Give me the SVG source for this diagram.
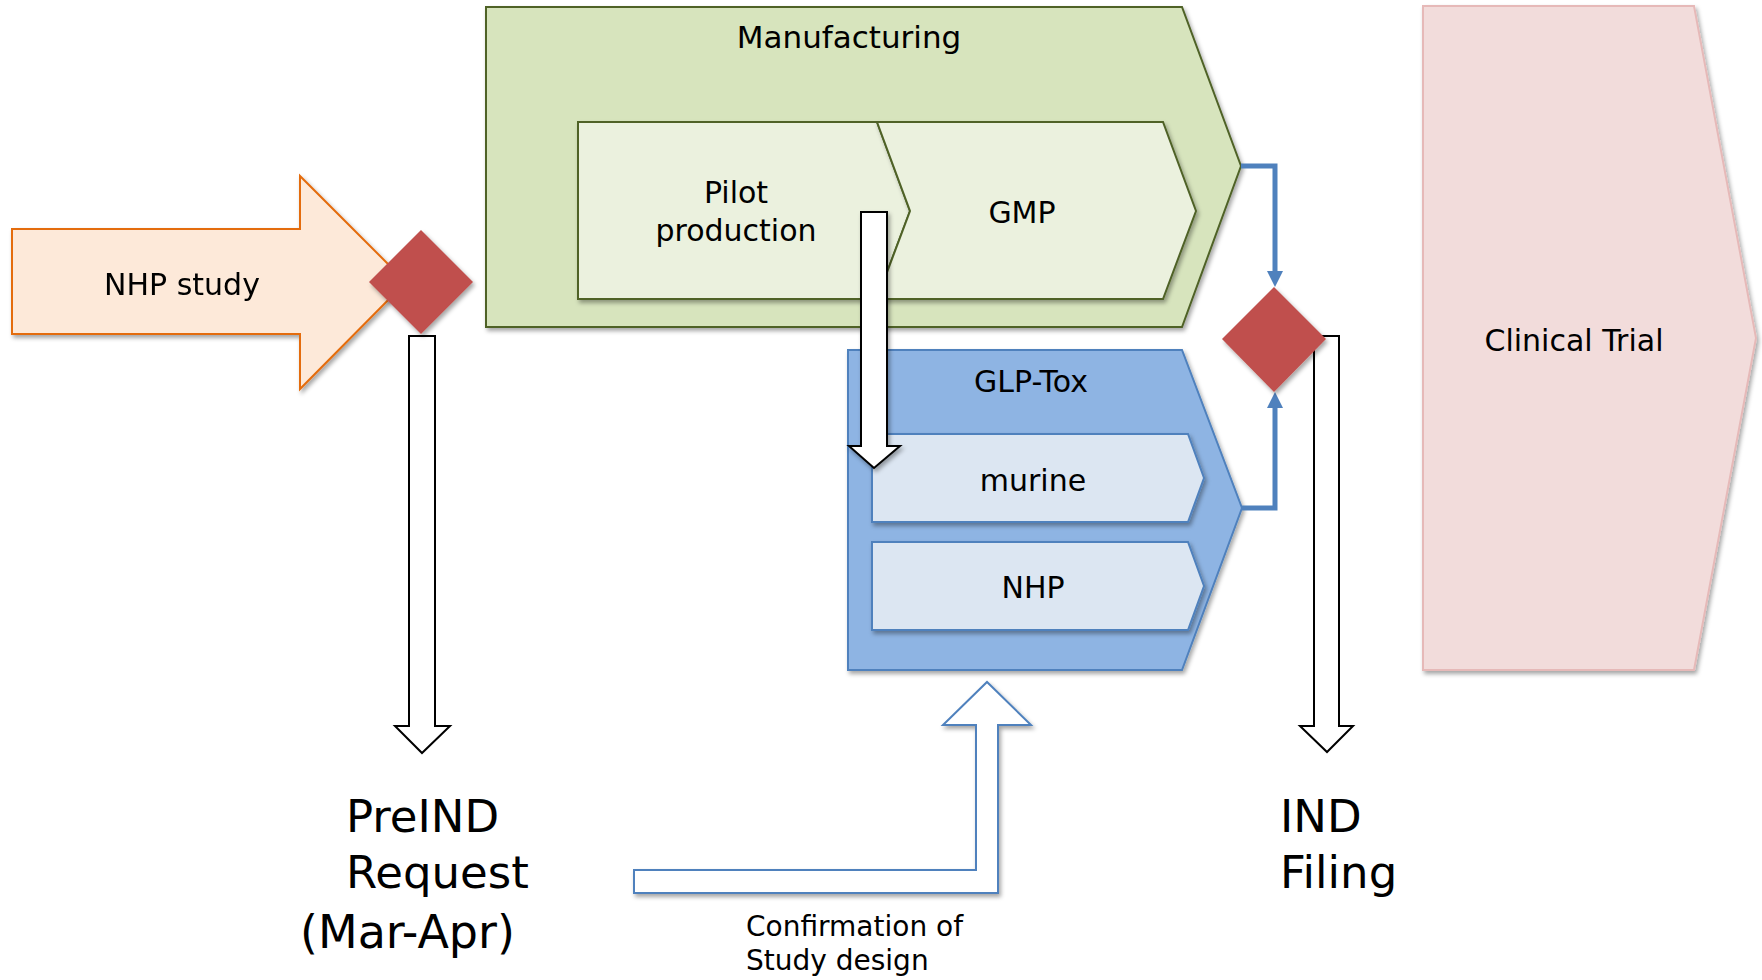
<svg xmlns="http://www.w3.org/2000/svg" width="1762" height="980" viewBox="0 0 1762 980">
<style>
text{font-family:"DejaVu Sans","Liberation Sans",sans-serif;fill:#000}
.lbl{font-size:30px;text-anchor:middle}
.big{font-size:45px}
.small{font-size:28px}
.green{fill:#D7E4BD;stroke:#4F6228;stroke-width:2}
.lgreen{fill:#EBF1DE;stroke:#4F6228;stroke-width:2}
.blue{fill:#8EB4E3;stroke:#4F81BD;stroke-width:2}
.lblue{fill:#DCE6F2;stroke:#4F81BD;stroke-width:2}
.dec{fill:#C0504D;stroke:none}
.blk{fill:#fff;stroke:#000;stroke-width:2}
.conn{fill:none;stroke:#4F81BD;stroke-width:5}
</style>
<defs>
<filter id="sh" x="-10%" y="-10%" width="130%" height="130%">
<feDropShadow dx="2" dy="3" stdDeviation="2" flood-color="#000" flood-opacity="0.35"/>
</filter>
<marker id="ah" markerUnits="userSpaceOnUse" markerWidth="16" markerHeight="16" viewBox="0 0 16 16" refX="0" refY="8" orient="auto">
<path d="M0,0 L16,8 L0,16 Z" fill="#4F81BD"/>
</marker>
</defs>
<rect width="1762" height="980" fill="#fff"/>

<g id="nhp-study" filter="url(#sh)">
<path d="M12,229 L300,229 L300,176 L406,282 L300,389 L300,334 L12,334 Z" fill="#FDE9D9" stroke="#E46C0A" stroke-width="2"/>
<text class="lbl" x="182" y="295">NHP study</text>
</g>

<g id="manufacturing">
<path class="green" filter="url(#sh)" d="M486,7 L1182,7 L1241,166 L1182,327 L486,327 Z"/>
<text class="lbl" x="849" y="48" style="font-size:31px">Manufacturing</text>
</g>

<g id="pilot-production">
<path class="lgreen" filter="url(#sh)" d="M578,122 L877,122 L910,211 L877,299 L578,299 Z"/>
<text class="lbl" x="736" y="203">Pilot</text>
<text class="lbl" x="736" y="241">production</text>
</g>

<g id="gmp">
<path class="lgreen" filter="url(#sh)" d="M877,122 L1163,122 L1196,211 L1163,299 L877,299 L910,211 Z"/>
<text class="lbl" x="1022" y="223">GMP</text>
</g>

<g id="glp-tox">
<path class="blue" filter="url(#sh)" d="M848,350 L1182,350 L1242,508 L1182,670 L848,670 Z"/>
<text class="lbl" x="1031" y="392">GLP-Tox</text>
</g>

<g id="murine">
<path class="lblue" filter="url(#sh)" d="M872,434 L1188,434 L1204,478 L1188,522 L872,522 Z"/>
<text class="lbl" x="1033" y="491">murine</text>
</g>

<g id="nhp">
<path class="lblue" filter="url(#sh)" d="M872,542 L1188,542 L1204,586 L1188,630 L872,630 Z"/>
<text class="lbl" x="1033" y="598">NHP</text>
</g>

<g id="clinical-trial">
<path filter="url(#sh)" d="M1423,6 L1694,6 L1756,338 L1694,670 L1423,670 Z" fill="#F2DCDB" stroke="#E6B9B8" stroke-width="2"/>
<text class="lbl" x="1574" y="351">Clinical Trial</text>
</g>

<g id="connectors">
<path class="blk" d="M409,336 L435,336 L435,726 L450,726 L422,753 L395,726 L409,726 Z"/>
<path class="blk" filter="url(#sh)" d="M861,212 L887,212 L887,446 L900,446 L874,468 L849,446 L861,446 Z"/>
<path class="blk" d="M1314,336 L1339,336 L1339,726 L1353,726 L1327,752 L1300,726 L1314,726 Z"/>
<path class="conn" d="M1241,166 H1275 V271" marker-end="url(#ah)"/>
<path class="conn" d="M1242,508 H1275 V408" marker-end="url(#ah)"/>
<path filter="url(#sh)" d="M634,870 L976,870 L976,725 L943,725 L987,682 L1031,725 L998,725 L998,893 L634,893 Z" fill="#fff" stroke="#4F81BD" stroke-width="2"/>
</g>

<g id="decision-1">
<path class="dec" filter="url(#sh)" d="M421,230 L473,282 L421,334 L369,282 Z"/>
</g>
<g id="decision-2">
<path class="dec" filter="url(#sh)" d="M1274,287 L1326,339 L1274,392 L1222,339 Z"/>
</g>

<g id="labels">
<text class="big" x="346" y="832">PreIND</text>
<text class="big" x="346" y="888">Request</text>
<text class="big" x="300" y="948" style="font-size:46px">(Mar-Apr)</text>
<text class="big" x="1280" y="832">IND</text>
<text class="big" x="1280" y="888">Filing</text>
<text class="small" x="746" y="936">Confirmation of</text>
<text class="small" x="746" y="970">Study design</text>
</g>
</svg>
